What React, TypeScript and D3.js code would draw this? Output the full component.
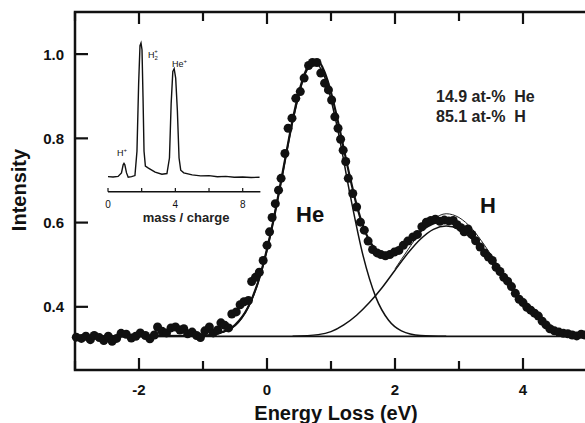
import React from "react";
import * as d3 from "d3";

// measured points (energy loss in eV, normalised intensity)
const dataX = [
  -2.98, -2.9, -2.83, -2.76, -2.7, -2.62, -2.55, -2.48, -2.42, -2.35, -2.28, -2.2, -2.12, -2.05,
  -1.98, -1.9, -1.83, -1.76, -1.71, -1.64, -1.57, -1.5, -1.43, -1.36, -1.3, -1.24, -1.17, -1.1,
  -1.04, -0.97, -0.9, -0.84, -0.77, -0.72, -0.66, -0.6, -0.55, -0.48, -0.42, -0.36, -0.29, -0.24,
  -0.18, -0.12, -0.06, 0.0, 0.04, 0.08, 0.13, 0.18, 0.22, 0.28, 0.33, 0.39, 0.45, 0.52, 0.58,
  0.65, 0.71, 0.78, 0.84, 0.9, 0.96, 1.01, 1.06, 1.11, 1.15, 1.19, 1.23, 1.27, 1.34, 1.4, 1.46,
  1.52, 1.58, 1.65, 1.72, 1.78, 1.85, 1.92, 1.99, 2.06, 2.13, 2.2, 2.28, 2.35, 2.42, 2.49, 2.56,
  2.63, 2.7, 2.77, 2.84, 2.91, 2.97, 3.03, 3.08, 3.14, 3.2, 3.26, 3.33, 3.4, 3.46, 3.52, 3.58,
  3.64, 3.7, 3.76, 3.82, 3.88, 3.94, 4.0, 4.06, 4.12, 4.18, 4.24, 4.3, 4.36, 4.42, 4.49, 4.56,
  4.63, 4.7, 4.77, 4.84, 4.91, 4.97,
];
const dataY = [
  0.328, 0.325, 0.33, 0.322, 0.332, 0.327, 0.32, 0.33, 0.318, 0.325, 0.337, 0.335, 0.326, 0.33,
  0.338, 0.332, 0.324, 0.333, 0.352, 0.342, 0.338, 0.35, 0.352, 0.345, 0.348, 0.336, 0.34, 0.332,
  0.327, 0.343, 0.352, 0.338, 0.345, 0.362, 0.356, 0.35, 0.383, 0.388, 0.405, 0.412, 0.415, 0.46,
  0.47, 0.482, 0.51, 0.546, 0.578, 0.612, 0.645, 0.677, 0.705, 0.764, 0.824, 0.848, 0.895, 0.911,
  0.943, 0.973, 0.98, 0.98, 0.955, 0.931, 0.915, 0.891, 0.851, 0.824, 0.798, 0.772, 0.745, 0.705,
  0.669, 0.637, 0.601, 0.582, 0.556, 0.536, 0.528, 0.524, 0.521, 0.524, 0.53, 0.534, 0.546, 0.556,
  0.566, 0.572, 0.59, 0.601, 0.605, 0.608, 0.603, 0.606, 0.604, 0.605, 0.595, 0.588, 0.578, 0.585,
  0.572, 0.557, 0.542, 0.528, 0.518, 0.51, 0.494, 0.484, 0.47, 0.461, 0.448, 0.432, 0.418, 0.41,
  0.399, 0.392, 0.385, 0.378, 0.366, 0.357, 0.348, 0.343, 0.34, 0.337, 0.336, 0.333, 0.331, 0.335,
  0.333,
];

// fit curves
const fitX = [-3, -1, -0.7, -0.5, -0.3, -0.1, 0, 0.1, 0.2, 0.3, 0.4, 0.5, 0.6, 0.7, 0.8, 0.9, 1.0, 1.1, 1.2, 1.3, 1.4, 1.5, 1.6, 1.7, 1.8, 1.9, 2.0, 2.2, 2.4, 2.6, 2.8, 3.0, 3.2, 3.4, 3.6, 3.8, 4.0, 4.2, 4.4, 4.6, 4.8, 5.0];
const fitY = [0.33, 0.331, 0.34, 0.357, 0.398, 0.478, 0.537, 0.605, 0.683, 0.764, 0.843, 0.91, 0.958, 0.982, 0.983, 0.957, 0.909, 0.846, 0.775, 0.705, 0.642, 0.592, 0.557, 0.537, 0.528, 0.528, 0.534, 0.555, 0.58, 0.598, 0.604, 0.596, 0.572, 0.533, 0.489, 0.447, 0.41, 0.38, 0.357, 0.342, 0.334, 0.331];

const heX = [-1.0, -0.6, -0.4, -0.2, 0, 0.2, 0.4, 0.6, 0.74, 0.9, 1.1, 1.3, 1.5, 1.7, 1.9, 2.1, 2.4, 2.8];
const heY = [0.331, 0.345, 0.372, 0.431, 0.535, 0.681, 0.839, 0.954, 0.98, 0.946, 0.825, 0.665, 0.522, 0.423, 0.368, 0.343, 0.332, 0.33];

const hX = [0.4, 0.8, 1.0, 1.2, 1.4, 1.6, 1.8, 2.0, 2.2, 2.4, 2.6, 2.8, 3.0, 3.2, 3.4, 3.6, 3.8, 4.0, 4.2, 4.4, 4.6, 4.8, 5.0];
const hY = [0.33, 0.334, 0.341, 0.357, 0.38, 0.41, 0.446, 0.487, 0.527, 0.561, 0.584, 0.592, 0.584, 0.561, 0.527, 0.487, 0.446, 0.41, 0.38, 0.357, 0.341, 0.334, 0.331];

const hOuterX = [2.0, 2.2, 2.4, 2.6, 2.8, 3.0, 3.2, 3.4, 3.6];
const hOuterY = [0.49, 0.535, 0.578, 0.608, 0.621, 0.612, 0.586, 0.546, 0.5];

const baseline = 0.33;

// inset mass spectrum
const massX = [0, 0.3, 0.6, 0.8, 0.9, 0.95, 1.0, 1.1, 1.2, 1.4, 1.6, 1.72, 1.82, 1.9, 1.96, 2.02, 2.08, 2.14, 2.22, 2.4, 2.8, 3.2, 3.5, 3.65, 3.75, 3.85, 3.93, 4.02, 4.12, 4.22, 4.32, 4.5, 5, 5.5, 6, 6.5, 7, 7.5, 8, 8.5, 9];
const massY = [0.012, 0.01, 0.014, 0.04, 0.1, 0.11, 0.1, 0.04, 0.008, 0.012, 0.02, 0.2, 0.7, 0.98, 1.0, 0.95, 0.6, 0.2, 0.09, 0.075, 0.045, 0.03, 0.035, 0.15, 0.55, 0.79, 0.81, 0.74, 0.5, 0.15, 0.06, 0.04, 0.025, 0.018, 0.02, 0.012, 0.014, 0.008, 0.01, 0.006, 0.008];

const xTicks = [-3, -2, -1, 0, 1, 2, 3, 4, 5];
const xLabels = [-2, 0, 2, 4];
const yTicks = [0.4, 0.6, 0.8, 1.0];
const massTicks = [0, 2, 4, 6, 8];
const massLabels = [0, 4, 8];

const font = "'Liberation Sans', Arial, sans-serif";

const App = () => {
  const left = 75, right = 587, top = 12, bottom = 370;
  const x = d3.scaleLinear().domain([-3, 5]).range([left, right]);
  const y = d3.scaleLinear().domain([0.25, 1.1]).range([bottom, top]);

  const mx = d3.scaleLinear().domain([0, 8]).range([108, 242.7]);
  const my = d3.scaleLinear().domain([0, 1]).range([178.3, 43]);

  const line = (xs: number[], ys: number[]) =>
    d3
      .line<number>()
      .x((d) => x(d))
      .y((d, i) => y(ys[i]))
      .curve(d3.curveMonotoneX)(xs) || "";

  const massLine =
    d3
      .line<number>()
      .x((d) => mx(d))
      .y((d, i) => my(massY[i]))
      .curve(d3.curveLinear)(massX) || "";

  return (
    <svg
      width={585}
      height={423}
      style={{ position: "absolute", left: 0, top: 0, background: "white" }}
      fontFamily={font}
    >
      <rect width={585} height={423} fill="white" />
      {/* baseline */}
      <line x1={x(-3)} x2={x(5)} y1={y(baseline)} y2={y(baseline)} stroke="#111" strokeWidth={1.8} />
      <path d={line(heX, heY)} fill="none" stroke="#111" strokeWidth={1.5} />
      <path d={line(hX, hY)} fill="none" stroke="#111" strokeWidth={1.5} />
      <path d={line(hOuterX, hOuterY)} fill="none" stroke="#222" strokeWidth={1} />
      <path d={line(fitX, fitY)} fill="none" stroke="#111" strokeWidth={2.2} />
      {dataX.map((d, i) => (
        <circle key={i} cx={x(d)} cy={y(dataY[i])} r={4.5} fill="#111" />
      ))}

      {/* frame */}
      <rect x={left} y={top} width={right - left} height={bottom - top} fill="none" stroke="#111" strokeWidth={2.5} />
      {xTicks.map((t) => {
        const len = t % 2 === 0 ? 12 : 9;
        return (
          <g key={t}>
            <line x1={x(t)} x2={x(t)} y1={bottom} y2={bottom - len} stroke="#111" strokeWidth={2.2} />
            <line x1={x(t)} x2={x(t)} y1={top} y2={top + len} stroke="#111" strokeWidth={2.2} />
          </g>
        );
      })}
      {xLabels.map((t) => (
        <text key={t} x={x(t)} y={395} textAnchor="middle" fontSize={15} fontWeight="bold" fill="#111">
          {t}
        </text>
      ))}
      {yTicks.map((t) => (
        <g key={t}>
          <line x1={left} x2={left + 13} y1={y(t)} y2={y(t)} stroke="#111" strokeWidth={2.2} />
          <text x={64} y={y(t) + 5.5} textAnchor="end" fontSize={15} fontWeight="bold" fill="#111">
            {t.toFixed(1)}
          </text>
        </g>
      ))}
      <text x={336} y={420} textAnchor="middle" fontSize={20} fontWeight="bold" fill="#111">
        Energy Loss (eV)
      </text>
      <text transform="translate(26,190) rotate(-90)" textAnchor="middle" fontSize={20} fontWeight="bold" fill="#111">
        Intensity
      </text>

      {/* annotations */}
      <text x={436} y={102} fontSize={16} fontWeight="bold" fill="#222" xmlSpace="preserve">
        14.9 at-%  He
      </text>
      <text x={436} y={122} fontSize={16} fontWeight="bold" fill="#222" xmlSpace="preserve">
        85.1 at-%  H
      </text>
      <text x={296} y={222} fontSize={22} fontWeight="bold" fill="#111">He</text>
      <text x={480} y={213} fontSize={22} fontWeight="bold" fill="#111">H</text>

      {/* inset */}
      <path d={massLine} fill="none" stroke="#111" strokeWidth={1.4} />
      <line x1={mx(0)} x2={mx(9.05)} y1={191.7} y2={191.7} stroke="#111" strokeWidth={1.5} />
      {massTicks.map((t) => (
        <line key={t} x1={mx(t)} x2={mx(t)} y1={191.7} y2={188} stroke="#111" strokeWidth={1.2} />
      ))}
      {massLabels.map((t) => (
        <text key={t} x={mx(t)} y={208} textAnchor="middle" fontSize={10} fill="#111">
          {t}
        </text>
      ))}
      <text x={186} y={222} textAnchor="middle" fontSize={13} fontWeight="bold" fill="#222">
        mass / charge
      </text>
      <text x={117} y={156} fontSize={9} fill="#111">
        H<tspan fontSize={6} dy={-4}>+</tspan>
      </text>
      <text x={148} y={58} fontSize={9} fill="#111">
        H<tspan fontSize={6} dy={2}>2</tspan>
        <tspan fontSize={6} dx={-3.5} dy={-7}>+</tspan>
      </text>
      <text x={172} y={67} fontSize={9} fill="#111">
        He<tspan fontSize={6} dy={-4}>+</tspan>
      </text>
    </svg>
  );
};

export default App;
